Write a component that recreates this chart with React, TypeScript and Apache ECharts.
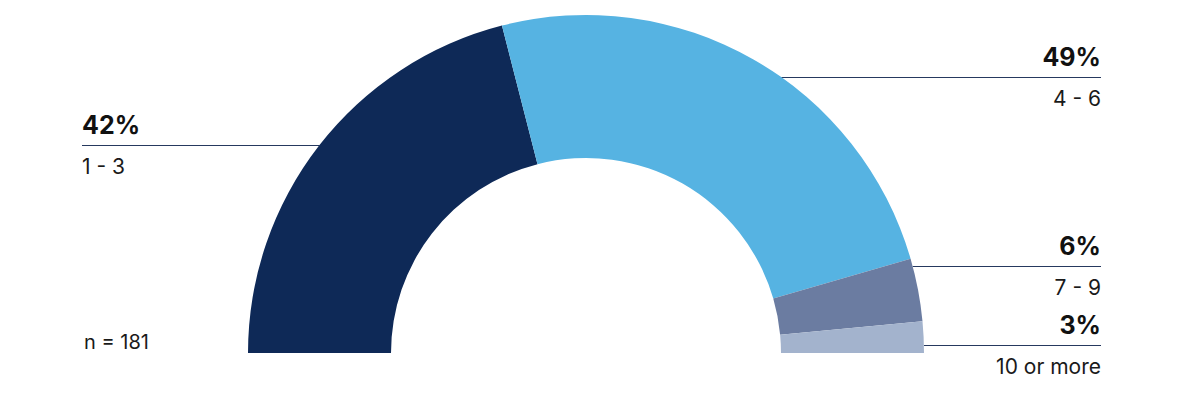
import React, { useEffect, useRef } from "react";
import * as echarts from "echarts";

const categories = ["1 - 3", "4 - 6", "7 - 9", "10 or more"];
const shares = [42, 49, 6, 3];
const sampleNote = "n = 181";
const colors = ["#0e2957", "#56b3e2", "#6b7ca1", "#a3b3cd"];
// where each label's rule sits (page y)
const labelLineY = [145, 77, 266, 345];

const CX = 586;
const CY = 353;
const R_IN = 195;
const R_OUT = 338;
const LEFT_EDGE = 82;
const RIGHT_EDGE = 1101;
const FONT = "Inter, 'Noto Sans', sans-serif";

const App = function () {
  const chart = useRef<HTMLDivElement>(null);

  useEffect(() => {
    if (!chart.current) return;
    const myChart = echarts.init(chart.current, undefined, { renderer: "svg" });
    const total = shares.reduce((a, b) => a + b, 0);

    // which side each label goes on, from the slice's middle
    let cum = 0;
    const leftSide = shares.map((v) => {
      const mid = cum + v / 2;
      cum += v;
      return mid < total / 2;
    });

    const data: any[] = shares.map((v, i) => ({
      name: categories[i],
      value: v,
      itemStyle: { color: colors[i] },
    }));
    // invisible lower half
    data.push({
      name: "",
      value: total,
      itemStyle: { color: "none" },
      label: { show: false },
      labelLine: { show: false },
      emphasis: { disabled: true },
      tooltip: { show: false },
    });

    const option = {
      animation: false,
      graphic: [
        {
          type: "text",
          x: 84,
          y: 342,
          style: {
            text: sampleNote,
            font: `20px ${FONT}`,
            fill: "#1a1a1a",
            verticalAlign: "middle",
          },
        },
      ],
      series: [
        {
          type: "pie",
          center: [CX, CY],
          radius: [R_IN, R_OUT],
          startAngle: 180,
          clockwise: true,
          avoidLabelOverlap: false,
          silent: true,
          data,
          label: {
            show: true,
            position: "outside",
            formatter: (p: any) => `{p|${p.value}%}\n{n|${p.name}}`,
            rich: {
              p: {
                fontSize: 25,
                fontWeight: "bold",
                fontFamily: FONT,
                color: "#111111",
                lineHeight: 41,
              },
              n: {
                fontSize: 21,
                fontFamily: FONT,
                color: "#1a1a1a",
                lineHeight: 42,
              },
            },
          },
          labelLine: {
            show: true,
            length: 10,
            length2: 10,
            smooth: false,
            lineStyle: { color: "#26395f", width: 1 },
          },
          labelLayout: (params: any) => {
            const i = params.dataIndex;
            if (i >= shares.length) return {};
            const y = labelLineY[i];
            const ly = y + 0.5;
            const isLeft = leftSide[i];
            const dy = CY - y;
            const dx = Math.sqrt(Math.max(R_OUT * R_OUT - dy * dy, 0));
            const x0 = isLeft ? CX - dx : CX + dx;
            const x1 = isLeft ? LEFT_EDGE : RIGHT_EDGE;
            return {
              x: x1,
              y: y - 41,
              align: isLeft ? "left" : "right",
              verticalAlign: "top",
              labelLinePoints: [
                [x0, ly],
                [x0, ly],
                [x1, ly],
              ],
            };
          },
        },
      ],
    };
    myChart.setOption(option);
    return () => {
      myChart.dispose();
    };
  }, []);

  return (
    <div
      ref={chart}
      style={{ position: "fixed", left: 0, top: 0, width: 1178, height: 407, background: "#fff" }}
    ></div>
  );
};

export default App;
